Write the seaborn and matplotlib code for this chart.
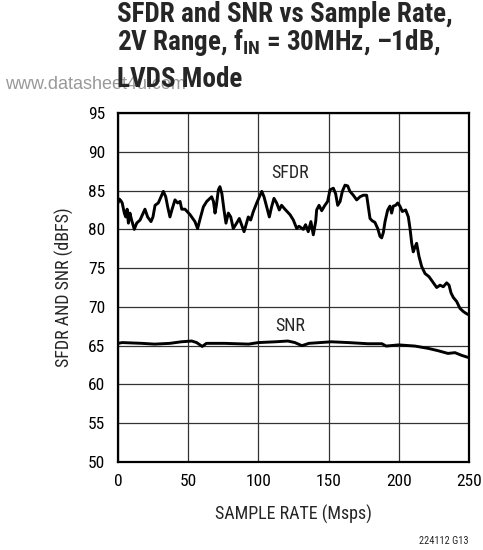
import pandas as pd
import seaborn as sns
import matplotlib.pyplot as plt
from matplotlib import font_manager

# Values
sfdr_rate = [0, 1, 2, 3, 4.5, 5.5, 6.5, 7.4, 8.5, 9.7, 11.6, 13.3, 15.7, 19.2, 21.1, 23.5,
             24.9, 26.4, 28.7, 30.6, 32.3, 34, 35.4, 37, 38.7, 40.6, 42.5, 44.2, 45.4, 47.7,
             51.3, 54.8, 56.7, 58.4, 60.8, 63.2, 66.7, 68, 69.1, 70, 71.5, 72.6, 74, 75.5,
             76.9, 78.6, 80.3, 82.1, 84.5, 86.4, 88, 89.8, 91.2, 92.8, 94.5, 96.4, 98.8,
             100.7, 102.4, 104, 105.9, 107.8, 109.4, 111.1, 113, 114.9, 116.5, 118.9, 122.5,
             124.9, 127.3, 128.9, 132, 133.6, 135.5, 137.4, 139.1, 140.8, 141.5, 143.2, 145.1,
             147, 149.3, 151, 153.4, 155, 156.5, 158.2, 159.8, 161.7, 163.6, 165.2, 167.6,
             170, 172.4, 174.7, 177.1, 178.3, 179.5, 181.1, 183, 185, 186.6, 187.8, 189,
             190.2, 192.1, 193.7, 194.9, 196.1, 197.8, 199.2, 200.8, 202.5, 204.9, 206.8,
             208, 209.2, 210.3, 211.5, 212.7, 214.4, 216.3, 218.7, 221.5, 224.6, 227, 229.4,
             231.7, 234.1, 235.8, 237.2, 238.9, 241.2, 243.6, 246, 247.6, 249.5]
sfdr_db = [83.4, 83.9, 83.7, 83.4, 82.1, 81.6, 82.6, 80.8, 82.1, 81.2, 80.0, 80.8, 81.2, 82.6,
           81.6, 81.0, 81.6, 83.1, 83.4, 84.2, 84.9, 84.2, 82.9, 81.6, 82.7, 83.8, 83.4, 83.6,
           82.6, 82.6, 81.9, 81.0, 80.1, 81.3, 82.9, 83.6, 84.2, 83.6, 82.1, 83.0, 85.1, 85.5,
           84.6, 82.5, 80.8, 82.1, 81.6, 80.1, 80.8, 81.4, 80.6, 79.7, 80.6, 81.6, 81.2, 82.3,
           83.4, 84.2, 84.9, 84.2, 82.9, 81.6, 82.9, 84.0, 83.4, 82.5, 83.1, 82.6, 81.9, 81.2,
           80.1, 80.4, 80.0, 80.6, 79.7, 81.0, 79.3, 81.0, 82.5, 83.1, 82.4, 83.0, 83.6, 85.1,
           85.3, 84.6, 83.1, 83.6, 84.9, 85.7, 85.6, 84.9, 84.4, 83.8, 84.2, 84.4, 84.4, 82.9,
           81.4, 81.1, 80.9, 80.1, 79.1, 78.9, 79.6, 81.0, 82.5, 83.0, 82.1, 83.0, 83.1, 83.4,
           83.0, 82.3, 82.5, 81.6, 80.1, 78.2, 77.1, 77.7, 78.2, 76.5, 75.2, 74.3, 73.9, 73.1,
           72.5, 72.8, 72.6, 73.1, 72.8, 71.8, 71.2, 70.7, 69.8, 69.4, 69.2, 69.0]

snr_rate = [0, 3, 17, 26, 37, 45, 52.5, 56, 60, 63, 76, 93, 100, 112, 121, 126, 131, 136,
            152, 164, 178, 188, 191, 200, 211.5, 221, 228, 235, 240, 244.8, 250]
snr_db = [65.3, 65.4, 65.3, 65.2, 65.3, 65.5, 65.6, 65.4, 64.9, 65.3, 65.3, 65.2, 65.4, 65.5,
          65.6, 65.4, 65.0, 65.3, 65.5, 65.4, 65.25, 65.25, 64.95, 65.1, 64.95, 64.65, 64.35,
          64.0, 64.1, 63.75, 63.45]

x_ticks = [0, 50, 100, 150, 200, 250]
y_ticks = [50, 55, 60, 65, 70, 75, 80, 85, 90, 95]

# condensed sans like the datasheet font, whichever is installed
installed = {f.name for f in font_manager.fontManager.ttflist}
wanted = ['Roboto Condensed', 'Barlow Semi Condensed', 'Archivo Narrow', 'Liberation Sans Narrow',
          'Liberation Sans']
cond = [n for n in wanted if n in installed][:1] or ['DejaVu Sans']

sns.set_style('white')
plt.rcParams['font.family'] = cond + ['DejaVu Sans']
plt.rcParams['mathtext.fontset'] = 'custom'
plt.rcParams['mathtext.rm'] = cond[0]
plt.rcParams['mathtext.bf'] = cond[0] + ':bold'

df = pd.concat([
    pd.DataFrame({'rate': sfdr_rate, 'db': sfdr_db, 'trace': 'SFDR'}),
    pd.DataFrame({'rate': snr_rate, 'db': snr_db, 'trace': 'SNR'}),
])

fig = plt.figure(figsize=(4.83, 5.5), dpi=100)
ax = fig.add_axes([0.2443, 0.16, 0.7267, 0.6345])

sns.lineplot(data=df, x='rate', y='db', units='trace', estimator=None, sort=False,
             color='black', linewidth=2.1, ax=ax, zorder=3)

ax.set_xlim(0, 250)
ax.set_ylim(50, 95)
ax.set_xticks(x_ticks)
ax.set_yticks(y_ticks)
ax.grid(True, color='#333333', linewidth=0.9)
for s in ax.spines.values():
    s.set_color('black')
    s.set_linewidth(1.6)
ax.tick_params(length=0, labelsize=12.5, colors='black')
ax.tick_params(axis='x', pad=9)
ax.tick_params(axis='y', pad=9)
ax.set_xlabel('SAMPLE RATE (Msps)', fontsize=13, labelpad=11)
ax.set_ylabel('SFDR AND SNR (dBFS)', fontsize=13, labelpad=10)

ax.text(122.5, 87.3, 'SFDR', fontsize=13, ha='center', va='center')
ax.text(122.5, 67.6, 'SNR', fontsize=13, ha='center', va='center')

fig.text(0.01, 0.838, 'www.datasheet4u.com', fontsize=13, color='#999999',
         family=['Liberation Sans', 'DejaVu Sans'], ha='left', va='baseline', zorder=0)
fig.text(0.242, 0.960, 'SFDR and SNR vs Sample Rate,', fontsize=19.5, fontweight='bold',
         ha='left', va='baseline')
fig.text(0.242, 0.909, '2V Range, f$_{\\mathbf{IN}}$ = 30MHz, \u20131dB,', fontsize=19.5,
         fontweight='bold', ha='left', va='baseline')
fig.text(0.242, 0.842, 'LVDS Mode', fontsize=19.5, fontweight='bold', ha='left', va='baseline')
fig.text(0.97, 0.008, '224112 G13', fontsize=7.5, ha='right', va='bottom')

fig.savefig('out.png', dpi=100)
